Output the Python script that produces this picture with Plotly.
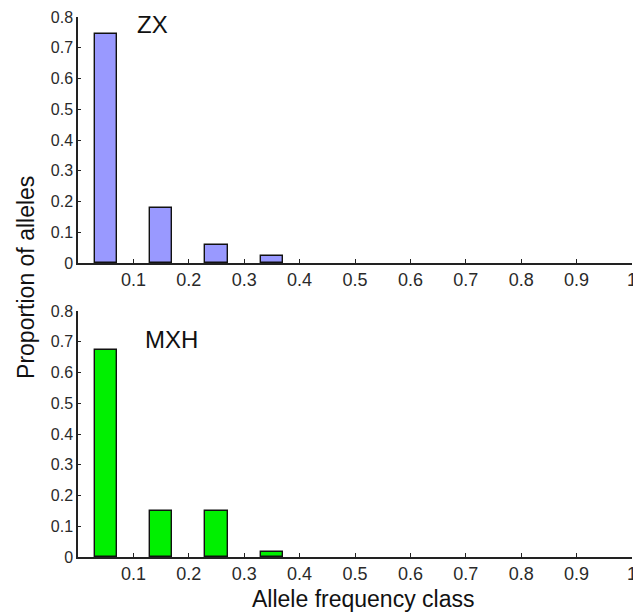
import plotly.graph_objects as go
from plotly.subplots import make_subplots

bin_centers = [0.05, 0.15, 0.25, 0.35, 0.45, 0.55, 0.65, 0.75, 0.85, 0.95]
zx_values = [0.745, 0.178, 0.057, 0.022, 0, 0, 0, 0, 0, 0]
mxh_values = [0.673, 0.151, 0.151, 0.016, 0, 0, 0, 0, 0, 0]
x_tickvals = [0.1, 0.2, 0.3, 0.4, 0.5, 0.6, 0.7, 0.8, 0.9, 1.0]
x_ticktext = ["0.1", "0.2", "0.3", "0.4", "0.5", "0.6", "0.7", "0.8", "0.9", "1"]
y_tickvals = [0, 0.1, 0.2, 0.3, 0.4, 0.5, 0.6, 0.7, 0.8]
y_ticktext = ["0", "0.1", "0.2", "0.3", "0.4", "0.5", "0.6", "0.7", "0.8"]

FONT = "Liberation Sans, Arial, sans-serif"

fig = make_subplots(rows=2, cols=1, vertical_spacing=0.0889)

def outline_widths(vals):
    return [1.4 if v > 0 else 0 for v in vals]

fig.add_trace(go.Bar(x=bin_centers, y=zx_values, width=0.04,
                     marker=dict(color="#9999ff",
                                 line=dict(color="#111111", width=outline_widths(zx_values))),
                     showlegend=False), row=1, col=1)
fig.add_trace(go.Bar(x=bin_centers, y=mxh_values, width=0.04,
                     marker=dict(color="#00f000",
                                 line=dict(color="#111111", width=outline_widths(mxh_values))),
                     showlegend=False), row=2, col=1)

axis_common_x = dict(range=[0, 1.0], tickvals=x_tickvals, ticktext=x_ticktext,
                     showline=True, linecolor="#222222", linewidth=1.5,
                     ticks="inside", ticklen=4, tickcolor="#222222", tickwidth=1.2,
                     showgrid=False, zeroline=False, automargin=False,
                     tickfont=dict(family=FONT, size=18, color="#2a2a2a"))
axis_common_y = dict(range=[0, 0.8], tickvals=y_tickvals, ticktext=y_ticktext,
                     showline=True, linecolor="#222222", linewidth=1.5,
                     ticks="inside", ticklen=3, tickcolor="#222222",
                     showgrid=False, zeroline=False, automargin=False,
                     tickfont=dict(family=FONT, size=16, color="#2a2a2a"))

fig.update_xaxes(**axis_common_x)
fig.update_yaxes(**axis_common_y)

fig.update_layout(
    width=633, height=605,
    margin=dict(l=70, r=9, t=9, b=56, autoexpand=False),
    paper_bgcolor="white", plot_bgcolor="white",
    bargap=0,
    font=dict(family=FONT, color="#222222"),
)

fig.add_annotation(text="ZX", xref="x", yref="y", x=0.134, y=0.774,
                   xanchor="center", yanchor="middle",
                   showarrow=False, font=dict(family=FONT, size=24, color="#111111"))
fig.add_annotation(text="MXH", xref="x2", yref="y2", x=0.168, y=0.706,
                   xanchor="center", yanchor="middle",
                   showarrow=False, font=dict(family=FONT, size=24, color="#111111"))
fig.add_annotation(text="Proportion of alleles", xref="paper", yref="paper",
                   x=-0.094, y=0.5185, textangle=-90, showarrow=False,
                   xanchor="center", yanchor="middle",
                   font=dict(family=FONT, size=23, color="#111111"))
fig.add_annotation(text="Allele frequency class", xref="paper", yref="paper",
                   x=0.514, y=-0.078, showarrow=False, xanchor="center", yanchor="middle",
                   font=dict(family=FONT, size=23, color="#111111"))

fig.write_html("out.html")
